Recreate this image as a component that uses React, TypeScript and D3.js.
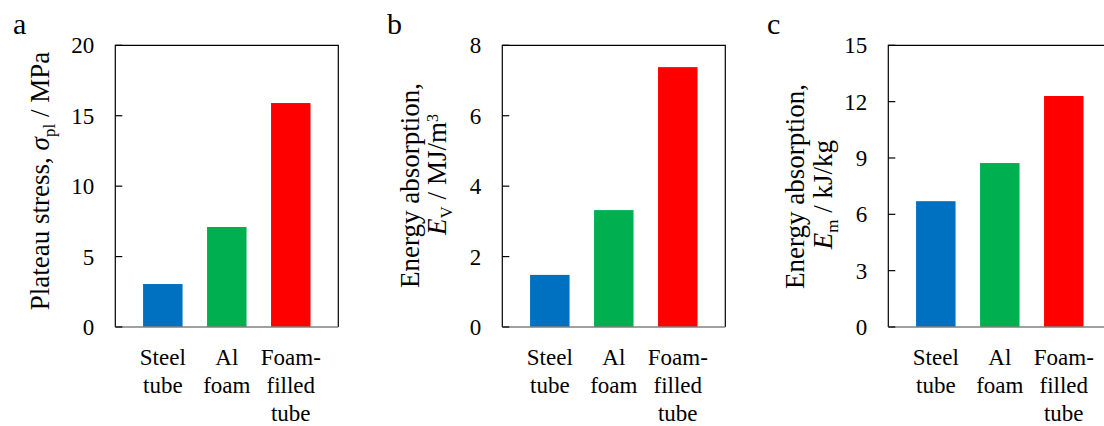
import React from "react";
import * as d3 from "d3";

const categories = ["Steel tube", "Al foam", "Foam-filled tube"];
const categoryLines = [["Steel", "tube"], ["Al", "foam"], ["Foam-", "filled", "tube"]];
const barColors = ["#0070C0", "#00B050", "#FF0000"];

const plateauStress = [3.05, 7.1, 15.9];
const energyVolume = [1.48, 3.32, 7.38];
const energyMass = [6.7, 8.73, 12.3];

const ticksA = [0, 5, 10, 15, 20];
const ticksB = [0, 2, 4, 6, 8];
const ticksC = [0, 3, 6, 9, 12, 15];

const panelLetters = ["a", "b", "c"];

const WIDTH = 1104;
const HEIGHT = 426;
const FONT = "Liberation Serif";
const TOP = 45.3;
const BOTTOM = 327;
const PLOT_W = 223;

const panels = [
  { left: 115.3, values: plateauStress, ticks: ticksA, letterX: 13 },
  { left: 502.3, values: energyVolume, ticks: ticksB, letterX: 387 },
  { left: 888.3, values: energyMass, ticks: ticksC, letterX: 767 },
];

const Panel = ({ p, i }: { p: (typeof panels)[number]; i: number }) => {
  const yMax = p.ticks[p.ticks.length - 1];
  const y = d3.scaleLinear().domain([0, yMax]).range([BOTTOM, TOP]);
  const x = d3
    .scaleBand()
    .domain(categories)
    .range([p.left, p.left + PLOT_W])
    .paddingInner(0.383)
    .paddingOuter(0.434);

  return (
    <g>
      {p.values.map((v, j) => (
        <rect
          key={j}
          x={x(categories[j])}
          width={x.bandwidth()}
          y={y(v)}
          height={BOTTOM - y(v)}
          fill={barColors[j]}
        />
      ))}
      <path
        d={`M${p.left},${BOTTOM}V${TOP}H${p.left + PLOT_W}V${BOTTOM}`}
        fill="none"
        stroke="#000"
        strokeWidth={1.2}
      />
      <line x1={p.left} x2={p.left + PLOT_W} y1={BOTTOM} y2={BOTTOM} stroke="#808080" strokeWidth={1.6} />
      {p.ticks.map((t) => (
        <g key={t}>
          <line x1={p.left} x2={p.left + 7} y1={y(t)} y2={y(t)} stroke="#000" strokeWidth={1.2} />
          <text
            x={p.left - 21}
            y={y(t)}
            dy="0.35em"
            textAnchor="end"
            fontFamily={FONT}
            fontSize={23}
          >
            {t}
          </text>
        </g>
      ))}
      {categoryLines.map((lines, j) =>
        lines.map((ln, k) => (
          <text
            key={`${j}-${k}`}
            x={(x(categories[j]) as number) + x.bandwidth() / 2}
            y={365 + k * 28}
            textAnchor="middle"
            fontFamily={FONT}
            fontSize={23}
          >
            {ln}
          </text>
        ))
      )}
      <text x={p.letterX} y={34} fontFamily={FONT} fontSize={30}>
        {panelLetters[i]}
      </text>
    </g>
  );
};

const Label = ({ tx, ty, children }: { tx: number; ty: number; children: React.ReactNode }) => (
  <text
    transform={`translate(${tx},${ty}) rotate(-90)`}
    textAnchor="middle"
    fontFamily={FONT}
    fontSize={27}
  >
    {children}
  </text>
);

const App = () => (
  <svg
    width={WIDTH}
    height={HEIGHT}
    style={{ position: "absolute", left: 0, top: 0, background: "#fff" }}
  >
    {panels.map((p, i) => (
      <Panel key={i} p={p} i={i} />
    ))}

    <Label tx={49} ty={181}>
      <tspan>Plateau stress, </tspan>
      <tspan fontStyle="italic">σ</tspan>
      <tspan dy={6} fontSize={17}>pl</tspan>
      <tspan dy={-6}> / MPa</tspan>
    </Label>

    <Label tx={419} ty={185.5}>Energy absorption,</Label>
    <Label tx={446} ty={174.5}>
      <tspan fontStyle="italic">E</tspan>
      <tspan dy={6} fontSize={17}>V</tspan>
      <tspan dy={-6}> / MJ/m</tspan>
      <tspan dy={-8} fontSize={16}>3</tspan>
    </Label>

    <Label tx={804.3} ty={186.5}>Energy absorption,</Label>
    <Label tx={832} ty={194.5}>
      <tspan fontStyle="italic">E</tspan>
      <tspan dy={6} fontSize={17}>m</tspan>
      <tspan dy={-6}> / kJ/kg</tspan>
    </Label>
  </svg>
);

export default App;
